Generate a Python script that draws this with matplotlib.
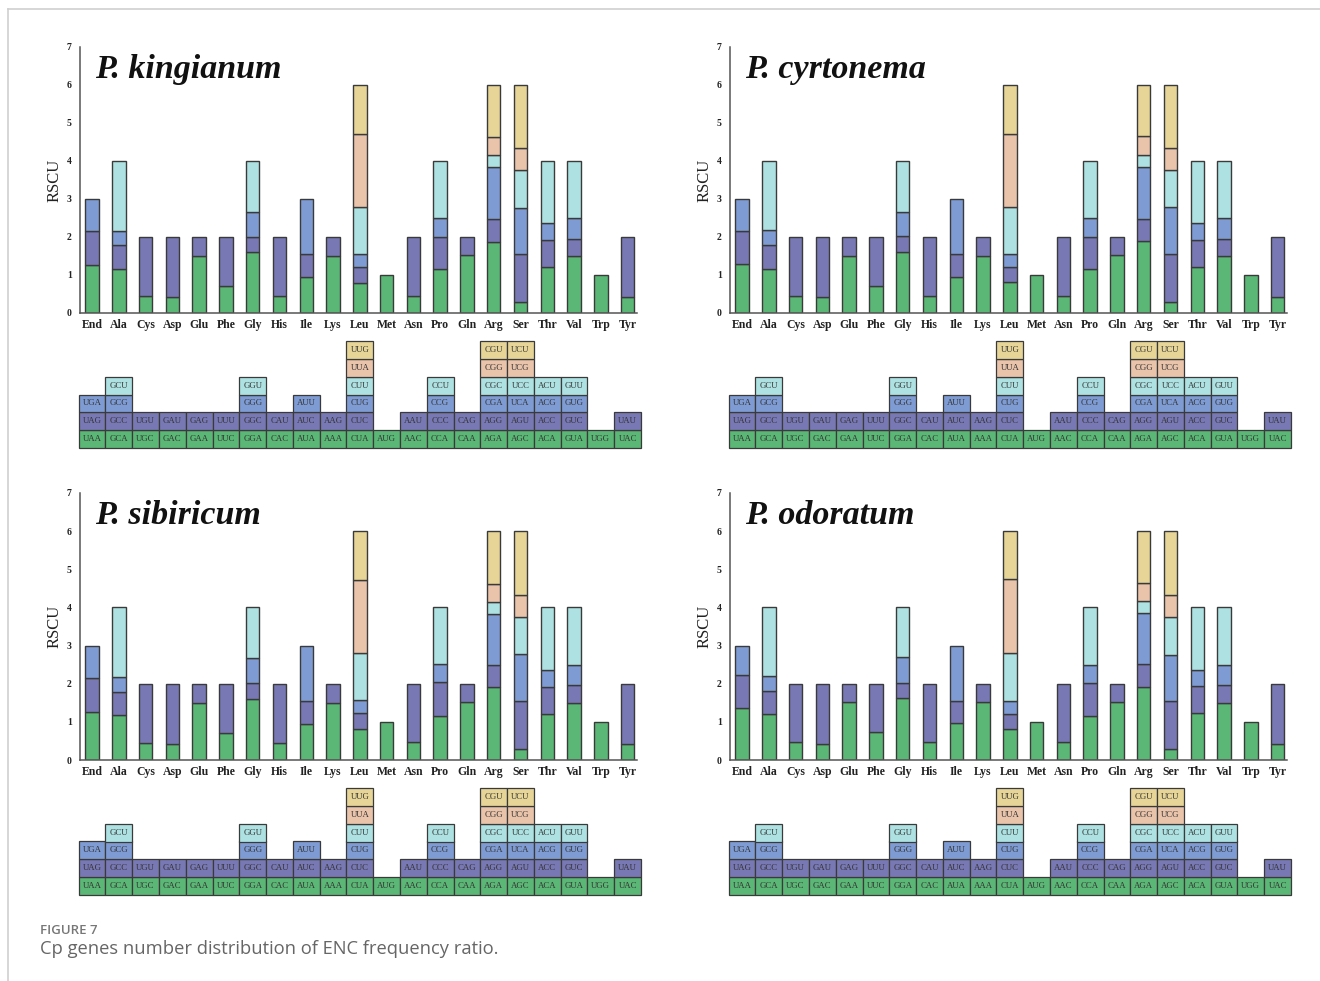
import matplotlib
matplotlib.use("Agg")
import matplotlib.pyplot as plt
from matplotlib.patches import Rectangle
from matplotlib.lines import Line2D

# Amino acids in plotting order and their synonymous codons (bottom to top)
amino_acids = ["End", "Ala", "Cys", "Asp", "Glu", "Phe", "Gly", "His", "Ile", "Lys",
               "Leu", "Met", "Asn", "Pro", "Gln", "Arg", "Ser", "Thr", "Val", "Trp", "Tyr"]

codons = [
    ["UAA", "UAG", "UGA"],
    ["GCA", "GCC", "GCG", "GCU"],
    ["UGC", "UGU"],
    ["GAC", "GAU"],
    ["GAA", "GAG"],
    ["UUC", "UUU"],
    ["GGA", "GGC", "GGG", "GGU"],
    ["CAC", "CAU"],
    ["AUA", "AUC", "AUU"],
    ["AAA", "AAG"],
    ["CUA", "CUC", "CUG", "CUU", "UUA", "UUG"],
    ["AUG"],
    ["AAC", "AAU"],
    ["CCA", "CCC", "CCG", "CCU"],
    ["CAA", "CAG"],
    ["AGA", "AGG", "CGA", "CGC", "CGG", "CGU"],
    ["AGC", "AGU", "UCA", "UCC", "UCG", "UCU"],
    ["ACA", "ACC", "ACG", "ACU"],
    ["GUA", "GUC", "GUG", "GUU"],
    ["UGG"],
    ["UAC", "UAU"],
]

# RSCU values per species, same codon order as above
rscu_kingianum = [
    [1.27, 0.89, 0.84], [1.16, 0.62, 0.38, 1.84], [0.45, 1.55], [0.42, 1.58],
    [1.49, 0.51], [0.71, 1.29], [1.61, 0.40, 0.64, 1.35], [0.45, 1.55],
    [0.94, 0.60, 1.46], [1.49, 0.51], [0.80, 0.40, 0.35, 1.24, 1.93, 1.28],
    [1.00], [0.46, 1.54], [1.15, 0.86, 0.50, 1.49], [1.52, 0.48],
    [1.88, 0.60, 1.37, 0.30, 0.47, 1.38], [0.30, 1.25, 1.21, 1.00, 0.57, 1.67],
    [1.22, 0.71, 0.43, 1.64], [1.50, 0.46, 0.55, 1.49], [1.00], [0.41, 1.59],
]
rscu_cyrtonema = [
    [1.29, 0.87, 0.84], [1.16, 0.62, 0.40, 1.82], [0.45, 1.55], [0.41, 1.59],
    [1.50, 0.50], [0.71, 1.29], [1.61, 0.41, 0.65, 1.33], [0.45, 1.55],
    [0.94, 0.60, 1.46], [1.50, 0.50], [0.81, 0.41, 0.33, 1.24, 1.93, 1.28],
    [1.00], [0.46, 1.54], [1.15, 0.86, 0.50, 1.49], [1.52, 0.48],
    [1.90, 0.58, 1.37, 0.32, 0.48, 1.35], [0.30, 1.26, 1.22, 0.99, 0.58, 1.65],
    [1.22, 0.71, 0.45, 1.62], [1.50, 0.46, 0.55, 1.49], [1.00], [0.41, 1.59],
]
rscu_sibiricum = [
    [1.27, 0.89, 0.84], [1.17, 0.62, 0.39, 1.82], [0.45, 1.55], [0.41, 1.59],
    [1.50, 0.50], [0.72, 1.28], [1.61, 0.40, 0.66, 1.33], [0.45, 1.55],
    [0.94, 0.60, 1.46], [1.50, 0.50], [0.81, 0.41, 0.35, 1.23, 1.93, 1.27],
    [1.00], [0.46, 1.54], [1.15, 0.89, 0.47, 1.49], [1.52, 0.48],
    [1.91, 0.58, 1.35, 0.31, 0.46, 1.39], [0.30, 1.25, 1.22, 0.99, 0.57, 1.67],
    [1.21, 0.71, 0.44, 1.64], [1.50, 0.47, 0.53, 1.50], [1.00], [0.42, 1.58],
]
rscu_odoratum = [
    [1.36, 0.87, 0.77], [1.20, 0.61, 0.38, 1.81], [0.47, 1.53], [0.43, 1.57],
    [1.51, 0.49], [0.73, 1.27], [1.62, 0.40, 0.67, 1.31], [0.47, 1.53],
    [0.96, 0.59, 1.45], [1.51, 0.49], [0.81, 0.40, 0.34, 1.26, 1.94, 1.25],
    [1.00], [0.46, 1.54], [1.15, 0.87, 0.48, 1.50], [1.52, 0.48],
    [1.92, 0.59, 1.35, 0.31, 0.47, 1.36], [0.29, 1.26, 1.21, 0.99, 0.58, 1.67],
    [1.22, 0.71, 0.43, 1.64], [1.50, 0.46, 0.54, 1.50], [1.00], [0.41, 1.59],
]

species = ["P. kingianum", "P. cyrtonema", "P. sibiricum", "P. odoratum"]
species_rscu = [rscu_kingianum, rscu_cyrtonema, rscu_sibiricum, rscu_odoratum]

# Colour for each stacking level (1st codon at the bottom)
layer_colors = ["#5BB775", "#7878B4", "#7E9CD3", "#AEE1E1", "#E9C4AB", "#E6D597"]
edge = "#3a3a3a"
serif = ["Liberation Serif", "DejaVu Serif"]

W, H = 1320, 981
fig = plt.figure(figsize=(W / 100, H / 100), dpi=100)


def frac(x0, y_top, x1, y_bot):
    return [x0 / W, 1 - y_bot / H, (x1 - x0) / W, (y_bot - y_top) / H]


xlo, xhi = -0.45, 20.35
n = len(amino_acids)
xs = list(range(n))

# pixel anchors for each panel: (left, right, plot top, plot bottom, table top, table bottom)
panels = [
    (80, 637, 47, 313, 341, 448),
    (730, 1287, 47, 313, 341, 448),
    (80, 637, 493, 760, 788, 895),
    (730, 1287, 493, 760, 788, 895),
]

for name, rscu, (l, r, pt, pb, tt, tb) in zip(species, species_rscu, panels):
    ax = fig.add_axes(frac(l, pt, r, pb))
    # stacked bars, one level at a time
    for k in range(6):
        idx = [i for i in xs if len(rscu[i]) > k]
        vals = [rscu[i][k] for i in idx]
        bottoms = [sum(rscu[i][:k]) for i in idx]
        ax.bar(idx, vals, bottom=bottoms, width=0.5, color=layer_colors[k],
               edgecolor=edge, linewidth=1.0, zorder=2)
    ax.set_xlim(xlo, xhi)
    ax.set_ylim(0, 7)
    ax.set_yticks(range(8))
    ax.set_xticks(xs)
    ax.set_xticklabels(amino_acids)
    for lab in ax.get_xticklabels() + ax.get_yticklabels():
        lab.set_fontfamily(serif)
        lab.set_fontweight("bold")
        lab.set_color("#222222")
    ax.tick_params(axis="x", length=0, pad=4, labelsize=8.5)
    ax.tick_params(axis="y", length=0, pad=6, labelsize=7)
    for s in ("top", "right"):
        ax.spines[s].set_visible(False)
    for s in ("left", "bottom"):
        ax.spines[s].set_color("#555555")
        ax.spines[s].set_linewidth(1.1)
    ax.set_ylabel("RSCU", fontfamily=serif, fontsize=12, color="#222222", labelpad=3)
    ax.text(0.027, 6.4, name, transform=ax.get_yaxis_transform(), fontfamily=serif,
            fontsize=24.5, fontweight="bold", fontstyle="italic", va="center", ha="left",
            color="#111111")

    # codon key table under the bars
    tx = fig.add_axes(frac(l, tt, r, tb))
    tx.set_xlim(xlo, xhi)
    tx.set_ylim(0, 6)
    tx.axis("off")
    for i in xs:
        for k, cod in enumerate(codons[i]):
            tx.add_patch(Rectangle((i - 0.5, k), 1, 1, facecolor=layer_colors[k],
                                   edgecolor=edge, linewidth=0.9, clip_on=False))
            tx.text(i, k + 0.5, cod, ha="center", va="center", fontsize=6.3,
                    fontfamily=serif, color="#333333", clip_on=False)

# card border and caption
fig.add_artist(Line2D([8 / W, 1], [1 - 9 / H, 1 - 9 / H], color="#cfcfcf", lw=1.2))
fig.add_artist(Line2D([8 / W, 8 / W], [0, 1 - 9 / H], color="#cfcfcf", lw=1.2))
fig.text(40 / W, 1 - 930 / H, "FIGURE 7", fontfamily="Open Sans", fontsize=9.5,
         fontweight="semibold", color="#777777", va="center", ha="left")
fig.text(40 / W, 1 - 949 / H, "Cp genes number distribution of ENC frequency ratio.",
         fontfamily="Open Sans", fontsize=13.2, color="#666666", va="center", ha="left")

fig.savefig("out.png", dpi=100)
